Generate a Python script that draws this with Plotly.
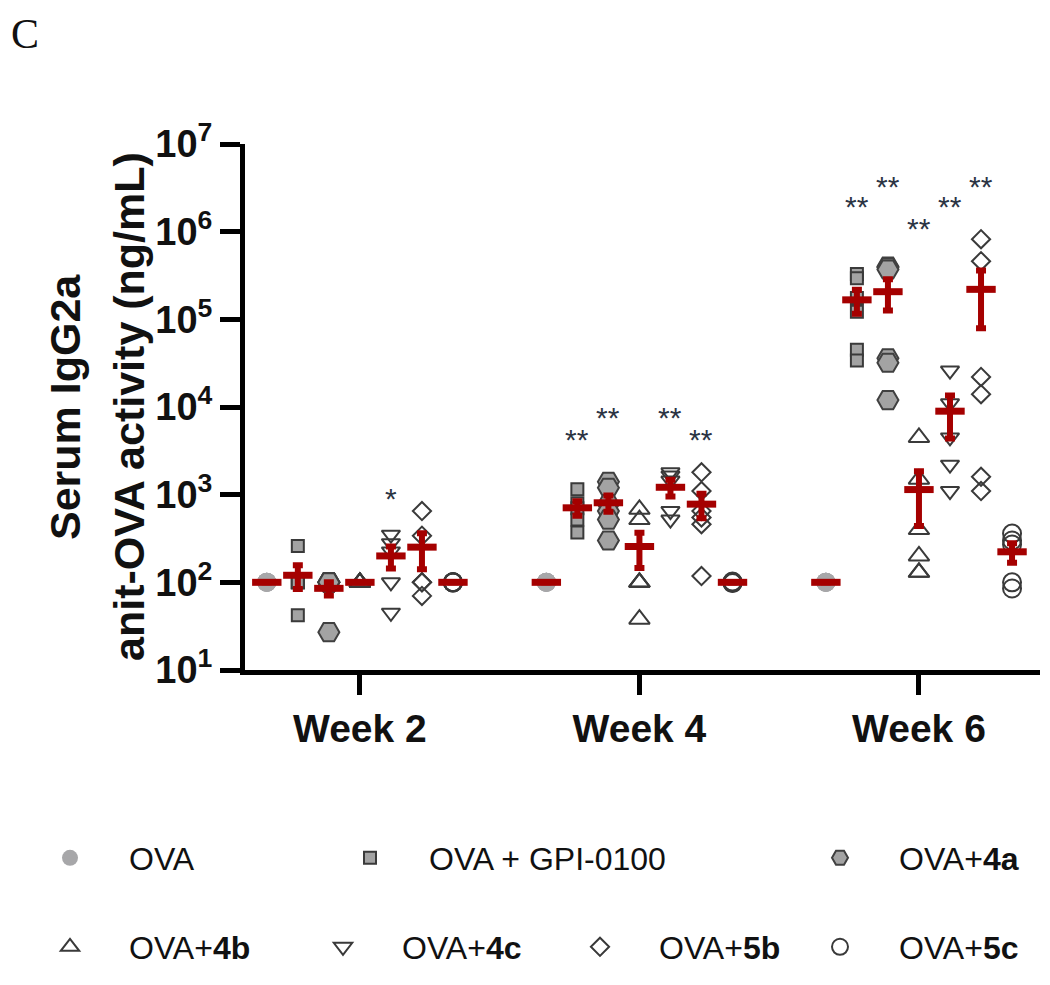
import numpy as np
import plotly.graph_objects as go

# ---------------- data ----------------
weeks = ["Week 2", "Week 4", "Week 6"]
group_names = ["OVA", "OVA + GPI-0100", "OVA+<b>4a</b>", "OVA+<b>4b</b>",
               "OVA+<b>4c</b>", "OVA+<b>5b</b>", "OVA+<b>5c</b>"]
y_exponents = [1, 2, 3, 4, 5, 6, 7]

# serum IgG2a (ng/mL), one list per week (Week 2, Week 4, Week 6)
ova = [[100, 100, 100, 100, 100],
       [100, 100, 100, 100, 100],
       [100, 100, 100, 100, 100]]
gpi = [[260, 100, 100, 100, 42],
       [1150, 800, 700, 520, 370],
       [330000, 295000, 175000, 122000, 45000, 34000]]
c4a = [[100, 100, 100, 100, 27],
       [1400, 1200, 780, 650, 520, 300],
       [400000, 390000, 370000, 36000, 32000, 12000]]
c4b = [[100, 100, 100, 100, 100],
       [680, 520, 100, 100, 100, 38],
       [4500, 1500, 400, 200, 130, 130]]
c4c = [[350, 280, 225, 100, 45],
       [1800, 1650, 1450, 650, 520],
       [26000, 11000, 4500, 2200, 1100]]
c5b = [[650, 340, 100, 100, 70],
       [1800, 1100, 650, 550, 460, 118],
       [820000, 460000, 22000, 14000, 1600, 1100]]
c5c = [[100, 100, 100, 100, 100],
       [100, 100, 98, 102, 100],
       [360, 300, 270, 100, 85]]

all_groups = [ova, gpi, c4a, c4b, c4c, c5b, c5c]

# significance marks: week index, group index, label, level (ng/mL)
sig_week = [0, 1, 1, 1, 1, 2, 2, 2, 2, 2]
sig_group = [4, 1, 2, 4, 5, 1, 2, 3, 4, 5]
sig_label = ["*", "**", "**", "**", "**", "**", "**", "**", "**", "**"]
sig_level = [1100, 5150, 9100, 9100, 5150, 2340000, 3900000, 1320000, 2340000, 3900000]

# ---------------- styles / geometry ----------------
styles = [
    dict(symbol="circle", size=19, color="#a7a7a9", line=dict(width=0, color="#a7a7a9")),
    dict(symbol="square", size=12, color="#a3a3a3", line=dict(width=2, color="#3a3a3a")),
    dict(symbol="hexagon2", size=21, color="#a3a3a3", line=dict(width=2, color="#404040")),
    dict(symbol="triangle-up-open", size=18, color="#3a3a3a", line=dict(width=2, color="#3a3a3a")),
    dict(symbol="triangle-down-open", size=16, color="#3a3a3a", line=dict(width=2, color="#3a3a3a")),
    dict(symbol="diamond-open", size=14, color="#3a3a3a", line=dict(width=2, color="#3a3a3a")),
    dict(symbol="circle-open", size=18, color="#3a3a3a", line=dict(width=2, color="#3a3a3a")),
]
RED = "#a50000"
step = 0.111
FONT = "Liberation Sans, Arial, sans-serif"

W, H = 1034, 969           # page body has an 8px margin
PL, PR, PT, PB = 237, 2, 136, 307
pw, ph = W - PL - PR, H - PT - PB

fig = go.Figure()
legend_names = ["legend", "legend2", "legend3", "legend4", "legend5", "legend6", "legend7"]

for gi, (name, data) in enumerate(zip(group_names, all_groups)):
    xs, ys = [], []
    for wi, vals in enumerate(data):
        xs += [wi + (gi - 3) * step] * len(vals)
        ys += list(vals)
    fig.add_trace(go.Scatter(
        x=xs, y=ys, mode="markers", name=name, marker=styles[gi],
        legend=legend_names[gi], cliponaxis=False, showlegend=True,
    ))

# group means +/- SEM
for gi, data in enumerate(all_groups):
    mx, my, se = [], [], []
    for wi, vals in enumerate(data):
        v = np.array(vals, dtype=float)
        mx.append(wi + (gi - 3) * step)
        my.append(v.mean())
        se.append(v.std(ddof=1) / np.sqrt(len(v)))
    fig.add_trace(go.Scatter(
        x=mx, y=my, mode="markers", showlegend=False, cliponaxis=False,
        marker=dict(symbol="line-ew", size=21, color=RED, line=dict(width=7, color=RED)),
        error_y=dict(type="data", array=se, arrayminus=se, visible=True,
                     color=RED, thickness=6, width=5),
    ))

for w, g, lab, lev in zip(sig_week, sig_group, sig_label, sig_level):
    fig.add_annotation(x=w + (g - 3) * step, y=np.log10(lev), text=lab, showarrow=False,
                       font=dict(family=FONT, size=30, color="#2b3444"),
                       xanchor="center", yanchor="middle", yshift=-7)

# panel letter
fig.add_annotation(xref="paper", yref="paper", x=(17 - PL) / pw, y=(PT + ph - 1) / ph,
                   text="C", showarrow=False, xanchor="center", yanchor="top",
                   font=dict(family="Liberation Serif, Times New Roman, serif", size=42, color="#111"))

# y-axis title (two centred lines)
for txt, cx in [("<b>Serum IgG2a</b>", 57), ("<b>anit-OVA activity (ng/mL)</b>", 121)]:
    fig.add_annotation(xref="paper", yref="paper", x=(cx - PL) / pw, y=0.5, text=txt,
                       textangle=-90, showarrow=False, xanchor="center", yanchor="middle",
                       font=dict(family=FONT, size=43, color="#111"))

fig.update_layout(
    width=W, height=H,
    margin=dict(l=PL, r=PR, t=PT, b=PB, autoexpand=False),
    paper_bgcolor="white", plot_bgcolor="white",
    font=dict(family=FONT, color="#111"),
    xaxis=dict(range=[-0.411, 2.433], tickmode="array", tickvals=list(range(len(weeks))),
               ticktext=["<b>%s</b>" % w for w in weeks], showline=True, linewidth=5,
               linecolor="black", ticks="outside", ticklen=20, tickwidth=5, tickcolor="black",
               tickfont=dict(family=FONT, size=39, color="#111"), showgrid=False,
               zeroline=False, automargin=False),
    yaxis=dict(type="log", range=[1, 7], tickmode="array",
               tickvals=[10.0 ** e for e in y_exponents],
               ticktext=["<b>10<sup>%d</sup></b>" % e for e in y_exponents],
               showline=True, linewidth=5, linecolor="black", ticks="outside", ticklen=20,
               tickwidth=5, tickcolor="black", showgrid=False, zeroline=False,
               tickfont=dict(family=FONT, size=38, color="#111"), automargin=False),
)

# one legend per entry, arranged like the original two-row key
leg_font = dict(family=FONT, size=32, color="#111")
IW = 108
leg_text_x = [130, 430, 900, 130, 403, 660, 900]   # text start (page px)
leg_row_y = [858, 858, 858, 947, 947, 947, 947]    # row centre (page px)
for ln, tx, ty in zip(legend_names, leg_text_x, leg_row_y):
    fig.update_layout({ln: dict(xref="container", yref="container",
                                x=((tx - 8) - (IW + 11)) / W, y=1 - (ty - 8) / H,
                                xanchor="left", yanchor="middle",
                                bgcolor="rgba(0,0,0,0)", borderwidth=0, font=leg_font,
                                itemwidth=IW, itemsizing="trace", orientation="h")})

fig.write_html("out.html")
